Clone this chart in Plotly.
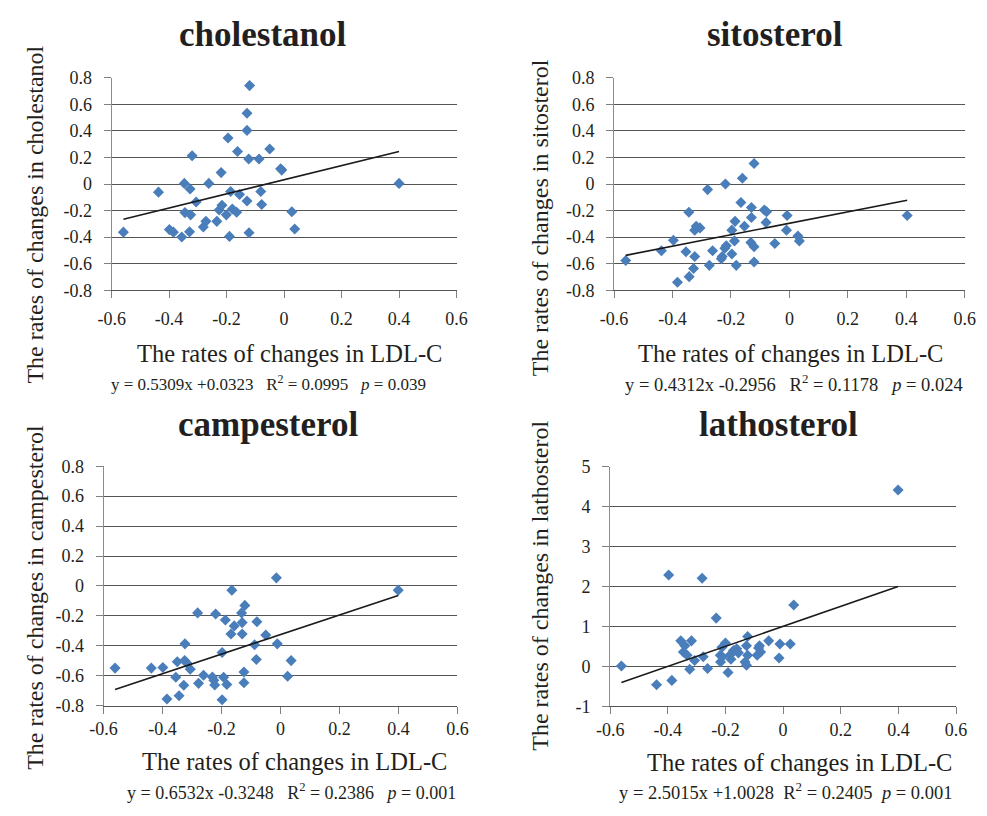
import plotly.graph_objects as go

# ---------------- data ----------------
x_ticks = [-0.6, -0.4, -0.2, 0, 0.2, 0.4, 0.6]
x_ticktext = ["-0.6", "-0.4", "-0.2", "0", "0.2", "0.4", "0.6"]
y_ticks_small = [-0.8, -0.6, -0.4, -0.2, 0, 0.2, 0.4, 0.6, 0.8]
y_ticktext_small = ["-0.8", "-0.6", "-0.4", "-0.2", "0", "0.2", "0.4", "0.6", "0.8"]
y_ticks_latho = [-1, 0, 1, 2, 3, 4, 5]
y_ticktext_latho = ["-1", "0", "1", "2", "3", "4", "5"]

chol_x = [-0.120, -0.129, -0.129, -0.195, -0.162, -0.050, -0.320, -0.123, -0.087, -0.012,
          -0.008, -0.219, -0.347, -0.262, 0.400, -0.327, -0.437, -0.186, -0.081, -0.155,
          -0.306, -0.129, -0.216, -0.078, -0.226, -0.180, -0.165, -0.201, 0.027, -0.345,
          -0.325, -0.272, -0.234, -0.281, -0.399, -0.385, -0.559, -0.329, -0.122, 0.037,
          -0.356, -0.190]
chol_y = [0.741, 0.533, 0.404, 0.347, 0.245, 0.264, 0.213, 0.188, 0.188, 0.115,
          0.105, 0.086, 0.005, 0.005, 0.005, -0.037, -0.061, -0.056, -0.056, -0.078,
          -0.135, -0.127, -0.159, -0.154, -0.196, -0.188, -0.213, -0.232, -0.208, -0.215,
          -0.232, -0.281, -0.281, -0.323, -0.343, -0.362, -0.362, -0.360, -0.367, -0.338,
          -0.399, -0.394]

sito_x = [-0.121, -0.161, -0.219, -0.280, -0.166, -0.130, -0.344, -0.086, -0.078, -0.008,
          0.403, -0.130, -0.186, -0.080, -0.154, -0.319, -0.306, -0.324, -0.197, -0.010,
          0.029, 0.034, -0.397, -0.188, -0.132, -0.050, -0.216, -0.121, -0.221, -0.438,
          -0.263, -0.354, -0.197, -0.230, -0.324, -0.233, -0.560, -0.121, -0.274, -0.182,
          -0.328, -0.343, -0.383]
sito_y = [0.154, 0.044, 0.0, -0.042, -0.139, -0.176, -0.213, -0.196, -0.208, -0.237,
          -0.237, -0.252, -0.281, -0.289, -0.318, -0.318, -0.330, -0.347, -0.347, -0.347,
          -0.391, -0.428, -0.423, -0.428, -0.440, -0.448, -0.465, -0.472, -0.484, -0.502,
          -0.502, -0.509, -0.526, -0.546, -0.546, -0.563, -0.575, -0.587, -0.612, -0.612,
          -0.636, -0.697, -0.739]

camp_x = [-0.014, -0.165, 0.399, -0.121, -0.281, -0.220, -0.132, -0.187, -0.080, -0.130,
          -0.157, -0.168, -0.130, -0.050, -0.324, -0.011, -0.088, -0.198, -0.350, -0.325,
          -0.317, 0.036, -0.082, -0.561, -0.438, -0.399, -0.306, -0.124, -0.261, -0.231,
          -0.355, -0.193, 0.024, -0.278, -0.223, -0.182, -0.328, -0.124, -0.344, -0.385,
          -0.198, -0.226]
camp_y = [0.054, -0.028, -0.028, -0.130, -0.180, -0.187, -0.180, -0.228, -0.239, -0.245,
          -0.267, -0.321, -0.321, -0.328, -0.387, -0.387, -0.393, -0.445, -0.506, -0.499,
          -0.517, -0.499, -0.491, -0.549, -0.549, -0.545, -0.556, -0.575, -0.597, -0.608,
          -0.610, -0.610, -0.604, -0.651, -0.662, -0.658, -0.664, -0.647, -0.734, -0.756,
          -0.760, -0.630]

latho_x = [0.399, -0.397, -0.281, -0.232, 0.037, -0.123, -0.355, -0.318, -0.050, -0.011,
           0.025, -0.200, -0.341, -0.212, -0.127, -0.082, -0.346, -0.161, -0.172, -0.333,
           -0.218, -0.183, -0.078, -0.090, -0.181, -0.123, -0.277, -0.307, -0.132, -0.014,
           -0.217, -0.561, -0.127, -0.262, -0.324, -0.191, -0.386, -0.439, -0.211, -0.155,
           -0.085]
latho_y = [4.42, 2.29, 2.21, 1.21, 1.54, 0.75, 0.64, 0.64, 0.64, 0.56,
           0.56, 0.585, 0.52, 0.48, 0.52, 0.52, 0.36, 0.44, 0.40, 0.28,
           0.28, 0.29, 0.36, 0.28, 0.18, 0.28, 0.24, 0.15, 0.11, 0.21,
           0.11, 0.01, 0.03, -0.05, -0.07, -0.15, -0.35, -0.46, 0.24, 0.34,
           0.46]

titles = ["cholestanol", "sitosterol", "campesterol", "lathosterol"]
slopes = [0.5309, 0.4312, 0.6532, 2.5015]
intercepts = [0.0323, -0.2956, -0.3248, 1.0028]
equations = [
    "y = 0.5309x +0.0323\u00a0\u00a0\u00a0R<sup>2</sup> = 0.0995\u00a0\u00a0\u00a0<i>p</i> = 0.039",
    "y = 0.4312x -0.2956\u00a0\u00a0\u00a0R<sup>2</sup> = 0.1178\u00a0\u00a0\u00a0<i>p</i> = 0.024",
    "y = 0.6532x -0.3248\u00a0\u00a0\u00a0R<sup>2</sup> = 0.2386\u00a0\u00a0\u00a0<i>p</i> = 0.001",
    "y = 2.5015x +1.0028\u00a0\u00a0R<sup>2</sup> = 0.2405\u00a0\u00a0<i>p</i> = 0.001",
]
xs = [chol_x, sito_x, camp_x, latho_x]
ys = [chol_y, sito_y, camp_y, latho_y]

# ---------------- layout geometry (pixels in the 987x816 window) ----------------
PAGE_MARGIN = 8          # default body margin of the html page
W, H = 987 - 2 * PAGE_MARGIN, 816 - 2 * PAGE_MARGIN
FONT = "Liberation Serif"
TXT = "#231F20"
MARK = "#4A7EBB"

boxes = [(100, 454, 69.3, 287.3),
         (615.7, 975.7, 69.3, 287.3),
         (91.7, 455, 467.7, 713.3),
         (611.7, 966.7, 468.3, 714)]
title_pos = [(255, 25), (781, 25), (260, 425), (785, 425)]
xtitle_pos = [(283, 352), (797, 352), (288, 771), (806, 772)]
xtitle_size = [24.5, 24.5, 24.5, 24.5]
eq_pos = [(261, 382), (800, 382), (285, 801), (792, 801)]
eq_size = [17, 18.5, 18, 18.5]
ytitle_pos = [(21, 210), (540, 213), (21, 602), (540, 590)]
xtick_standoff = [5, 5, 0, 0]

def px(x):
    return (x - PAGE_MARGIN) / W

def py(y):
    return 1 - (y - PAGE_MARGIN) / H

fig = go.Figure()
annotations = []
for i in range(4):
    xa = "x" if i == 0 else f"x{i+1}"
    ya = "y" if i == 0 else f"y{i+1}"
    fig.add_trace(go.Scatter(x=xs[i], y=ys[i], mode="markers", xaxis=xa, yaxis=ya,
                             marker=dict(symbol="diamond", size=8.5, color=MARK,
                                         line=dict(width=0)),
                             showlegend=False, hoverinfo="x+y"))
    xmin, xmax = min(xs[i]), max(xs[i])
    fig.add_trace(go.Scatter(x=[xmin, xmax],
                             y=[slopes[i] * xmin + intercepts[i], slopes[i] * xmax + intercepts[i]],
                             mode="lines", xaxis=xa, yaxis=ya,
                             line=dict(color="#1a1a1a", width=1.6),
                             showlegend=False, hoverinfo="skip"))
    l, r, t, b = boxes[i]
    latho = (i == 3)
    xkey = "xaxis" if i == 0 else f"xaxis{i+1}"
    ykey = "yaxis" if i == 0 else f"yaxis{i+1}"
    fig.layout[xkey] = dict(domain=[px(l), px(r)], range=[-0.6, 0.6], anchor=ya,
                            tickvals=x_ticks, ticktext=x_ticktext,
                            showgrid=False, zeroline=False, showline=True,
                            linecolor="#555555", linewidth=1,
                            ticks="outside", ticklen=7, tickcolor="#808080", tickwidth=1,
                            ticklabelstandoff=xtick_standoff[i],
                            tickfont=dict(family=FONT, size=18, color=TXT))
    fig.layout[ykey] = dict(domain=[py(b), py(t)],
                            range=[-1, 5] if latho else [-0.8, 0.8], anchor=xa,
                            tickvals=y_ticks_latho if latho else y_ticks_small,
                            ticktext=y_ticktext_latho if latho else y_ticktext_small,
                            showgrid=True, gridcolor="#555555", gridwidth=1,
                            zeroline=False, showline=True,
                            linecolor="#8c8c8c", linewidth=1,
                            ticks="outside", ticklen=7, tickcolor="#808080", tickwidth=1,
                            ticklabelstandoff=8,
                            tickfont=dict(family=FONT, size=18, color=TXT))
    annotations.append(dict(text=f"<b>{titles[i]}</b>", x=px(title_pos[i][0]), y=py(title_pos[i][1]),
                            xref="paper", yref="paper", xanchor="center", yanchor="middle",
                            showarrow=False, font=dict(family=FONT, size=35, color=TXT)))
    annotations.append(dict(text="The rates of changes in LDL-C", x=px(xtitle_pos[i][0]),
                            y=py(xtitle_pos[i][1]), xref="paper", yref="paper",
                            xanchor="center", yanchor="middle", showarrow=False,
                            font=dict(family=FONT, size=xtitle_size[i], color=TXT)))
    annotations.append(dict(text=equations[i], x=px(eq_pos[i][0]), y=py(eq_pos[i][1]),
                            xref="paper", yref="paper", xanchor="center", yanchor="middle",
                            showarrow=False, font=dict(family=FONT, size=eq_size[i], color=TXT)))
    annotations.append(dict(text=f"The rates of changes in {titles[i]}", x=px(ytitle_pos[i][0]),
                            y=py(ytitle_pos[i][1]), xref="paper", yref="paper",
                            xanchor="center", yanchor="middle", textangle=-90, showarrow=False,
                            font=dict(family=FONT, size=24, color=TXT)))

fig.update_layout(width=W, height=H, autosize=False,
                  margin=dict(l=0, r=0, t=0, b=0),
                  paper_bgcolor="white", plot_bgcolor="white",
                  showlegend=False, annotations=annotations,
                  font=dict(family=FONT, color=TXT))

fig.write_html("out.html")
